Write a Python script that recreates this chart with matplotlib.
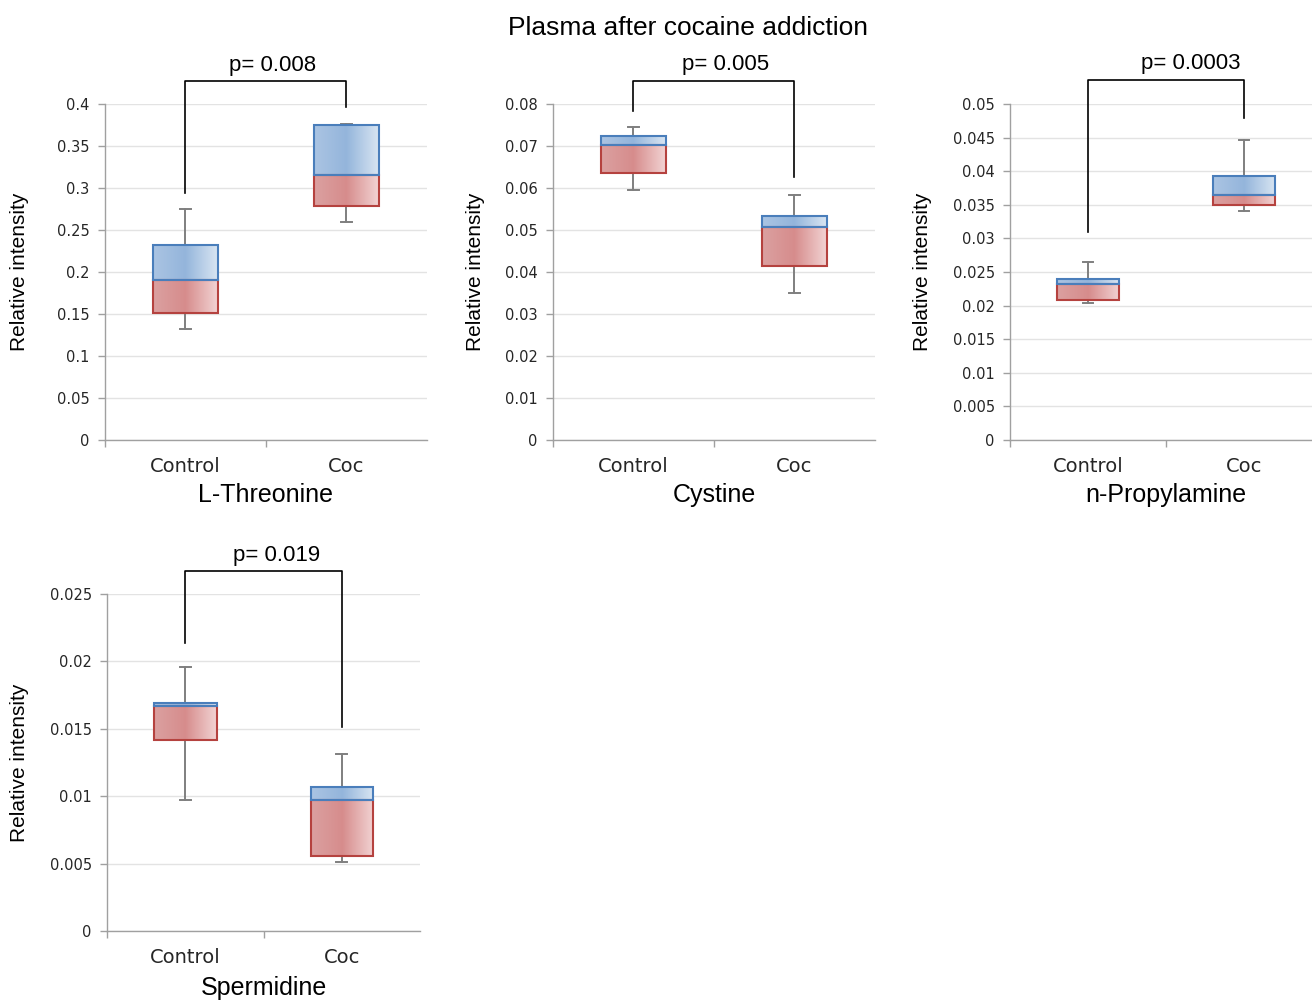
import numpy as np
import matplotlib
matplotlib.use("Agg")
import matplotlib.pyplot as plt
from matplotlib.patches import Rectangle
from matplotlib.colors import LinearSegmentedColormap

# values (relative intensity)
compounds = ["L-Threonine", "Cystine", "n-Propylamine", "Spermidine"]
groups = ["Control", "Coc"]
p_values = ["p= 0.008", "p= 0.005", "p= 0.0003", "p= 0.019"]

whisker_low = [[0.132, 0.259], [0.0595, 0.035], [0.0204, 0.0341], [0.0097, 0.0051]]
box_low = [[0.151, 0.279], [0.0636, 0.0414], [0.0208, 0.0350], [0.0142, 0.0056]]
median = [[0.191, 0.316], [0.0702, 0.0507], [0.0232, 0.0365], [0.0167, 0.0097]]
box_high = [[0.232, 0.375], [0.0724, 0.0533], [0.0240, 0.0393], [0.0169, 0.0107]]
whisker_high = [[0.275, 0.376], [0.0745, 0.0583], [0.0265, 0.0446], [0.0196, 0.0131]]

y_max = [0.4, 0.08, 0.05, 0.025]
y_step = [0.05, 0.01, 0.005, 0.005]

# significance bracket: top, left foot, right foot
bracket_top = [0.427, 0.0855, 0.0536, 0.0267]
bracket_left = [0.294, 0.0783, 0.0310, 0.0214]
bracket_right = [0.396, 0.0626, 0.0479, 0.0151]

# layout (figure fractions)
axes_rects = [
    [0.080, 0.560, 0.2454, 0.336],
    [0.4215, 0.560, 0.2454, 0.336],
    [0.7698, 0.560, 0.2378, 0.336],
    [0.0816, 0.069, 0.2386, 0.337],
]
p_text_x = [0.54, 0.57, 0.66, 0.58]
ylabel_x = [-0.236, -0.211, -0.25, -0.249]

red_cmap = LinearSegmentedColormap.from_list(
    "red", [(0.86, 0.63, 0.63), (0.84, 0.55, 0.55), (0.95, 0.83, 0.83)])
blue_cmap = LinearSegmentedColormap.from_list(
    "blue", [(0.67, 0.77, 0.89), (0.58, 0.71, 0.86), (0.85, 0.90, 0.95)])
grad = np.linspace(0, 1, 256).reshape(1, -1)

fig = plt.figure(figsize=(13.12, 10), dpi=100)
fig.text(0.5245, 0.972, "Plasma after cocaine addiction", ha="center", va="center",
         fontsize=19, family="Liberation Sans")

bw = 0.4
for i, name in enumerate(compounds):
    ax = fig.add_axes(axes_rects[i])
    for j in range(2):
        ax.plot([j, j], [whisker_low[i][j], box_low[i][j]], color="#7f7f7f", lw=1.4, zorder=1)
        ax.plot([j, j], [box_high[i][j], whisker_high[i][j]], color="#7f7f7f", lw=1.4, zorder=1)
        for yv in (whisker_low[i][j], whisker_high[i][j]):
            ax.plot([j - 0.035, j + 0.035], [yv, yv], color="#7f7f7f", lw=1.4, zorder=1)
        x0, x1 = j - bw / 2, j + bw / 2
        segs = [(box_low[i][j], median[i][j], red_cmap, "#b5423f"),
                (median[i][j], box_high[i][j], blue_cmap, "#4a7ebb")]
        for lo, hi, cm, ec in segs:
            ax.imshow(grad, cmap=cm, extent=(x0, x1, lo, hi), aspect="auto",
                      interpolation="bilinear", zorder=2)
            ax.add_patch(Rectangle((x0, lo), bw, hi - lo, fill=False,
                                   edgecolor=ec, lw=1.5, zorder=3))

    ax.set_xlim(-0.5, 1.5)
    ax.set_ylim(0, y_max[i])
    ticks = np.arange(0, y_max[i] + y_step[i] / 2, y_step[i])
    ax.set_yticks(ticks)
    ax.set_yticklabels([f"{round(t, 4):g}" for t in ticks], fontsize=10.5,
                       family="DejaVu Sans", color="#262626")
    ax.yaxis.grid(True, color="#e3e3e3", lw=1.0)
    ax.set_axisbelow(True)
    ax.tick_params(axis="y", length=5, width=1, color="#a0a0a0", pad=6)

    ax.set_xticks([0, 1])
    ax.set_xticklabels(groups, fontsize=14, family="DejaVu Sans", color="#262626")
    ax.set_xticks([-0.5, 0.5], minor=True)
    ax.tick_params(axis="x", which="major", length=0, pad=12)
    ax.tick_params(axis="x", which="minor", length=5, width=1, color="#a0a0a0")

    for s in ("top", "right"):
        ax.spines[s].set_visible(False)
    for s in ("left", "bottom"):
        ax.spines[s].set_color("#a0a0a0")
        ax.spines[s].set_linewidth(1.0)

    ax.set_ylabel("Relative intensity", fontsize=15, family="Liberation Sans")
    ax.yaxis.set_label_coords(ylabel_x[i], 0.5)
    name_y = -55 / 336 if i < 3 else -57 / 337
    ax.text(0.5, name_y, name, transform=ax.transAxes, ha="center", va="center",
            fontsize=18, family="Liberation Sans")

    ax.plot([0, 0, 1, 1], [bracket_left[i], bracket_top[i], bracket_top[i], bracket_right[i]],
            color="black", lw=1.2, clip_on=False, zorder=4)
    ax.annotate(p_values[i], xy=(p_text_x[i], bracket_top[i]), xytext=(0, 4),
                textcoords="offset points", ha="center", va="bottom",
                fontsize=16, family="Liberation Sans", annotation_clip=False)

fig.savefig("out.png", dpi=100)
